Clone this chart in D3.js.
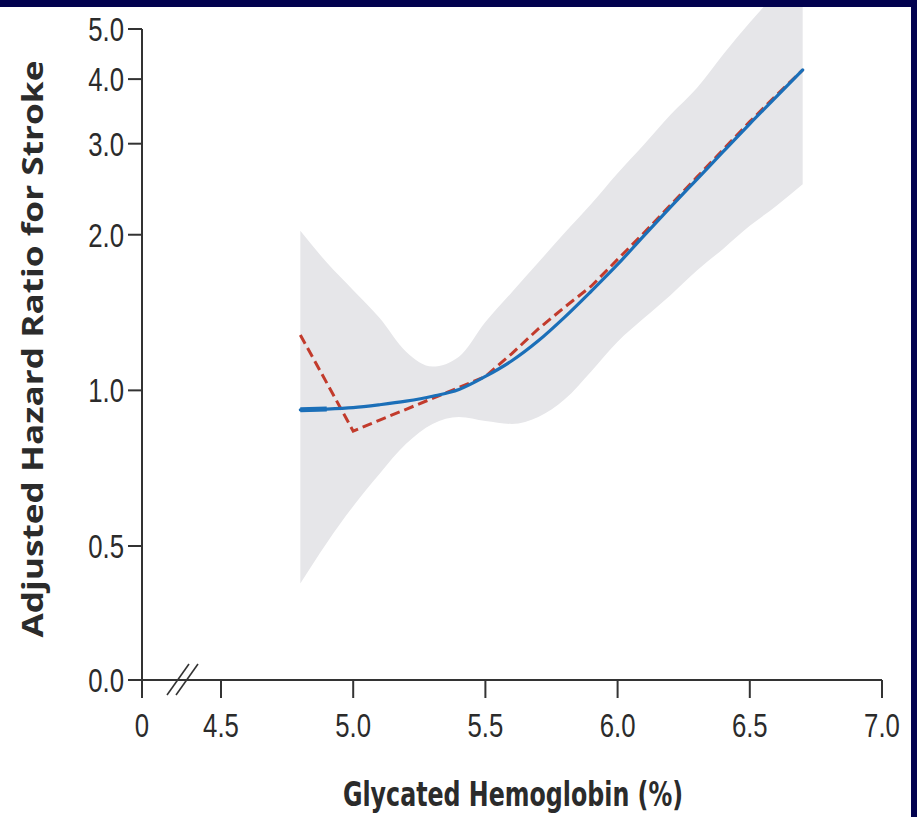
<!DOCTYPE html>
<html>
<head>
<meta charset="utf-8">
<script src="https://cdn.jsdelivr.net/npm/d3@7"></script>
<style>
  html, body { margin: 0; padding: 0; background: #ffffff; }
  svg { display: block; }
  text { fill: #2b2b2b; }
</style>
</head>
<body>
<svg id="chart" width="917" height="817"></svg>
<script>
// Glycated hemoglobin grid (%)
const hba1c = [4.8, 4.9, 5.0, 5.1, 5.2, 5.3, 5.4, 5.5, 5.6, 5.7, 5.8, 5.9, 6.0, 6.1, 6.2, 6.3, 6.4, 6.5, 6.6, 6.7];

// Spline-fitted adjusted hazard ratio (solid blue)
const hrSpline = [0.917, 0.920, 0.926, 0.938, 0.953, 0.974, 1.004, 1.064, 1.141, 1.247,
                  1.386, 1.555, 1.752, 1.992, 2.262, 2.560, 2.898, 3.278, 3.695, 4.166];

// Alternative fit (dashed red)
const hrAlt = [1.280, 1.034, 0.834, 0.876, 0.919, 0.965, 1.013, 1.064, 1.178, 1.315,
               1.449, 1.590, 1.792, 2.018, 2.282, 2.585, 2.925, 3.310, 3.720, 4.166];

// 95% confidence band of the spline
const ciUpper = [2.036, 1.767, 1.562, 1.380, 1.188, 1.112, 1.162, 1.356, 1.548, 1.767,
                 2.018, 2.293, 2.630, 2.989, 3.412, 3.844, 4.467, 5.145, 5.873, 6.706];
const ciLower = [0.423, 0.507, 0.597, 0.690, 0.788, 0.861, 0.888, 0.872, 0.861, 0.888,
                 0.961, 1.088, 1.242, 1.380, 1.528, 1.706, 1.880, 2.081, 2.273, 2.505];

// Axis ticks
const xTicks = [4.5, 5.0, 5.5, 6.0, 6.5, 7.0];
const yTicks = [0.5, 1.0, 2.0, 3.0, 4.0, 5.0];
const xZeroLabel = "0";
const yZeroLabel = "0.0";

const svg = d3.select("#chart");
const W = 917, H = 817;

const axisX = 142;       // vertical axis position (x = 0 after the break)
const axisY = 680;       // horizontal axis position (y = 0 after the break)

const x = d3.scaleLinear().domain([4.5, 7.0]).range([221, 882]);
const y = d3.scaleLog().domain([0.5, 5.0]).range([546, 29]);

const tickFont = "'Liberation Sans', Arial, sans-serif";
const narrow = "'DejaVu Sans Condensed', 'Liberation Sans', sans-serif";
const axisColor = "#333333";
const squeeze = 0.78;    // horizontal compression of tick labels

const rows = hba1c.map((v, i) => ({ x: v, s: hrSpline[i], a: hrAlt[i], lo: ciLower[i], hi: ciUpper[i] }));

// clip region for the plot contents
svg.append("defs").append("clipPath").attr("id", "plotClip")
  .append("rect").attr("x", axisX).attr("y", 0).attr("width", W - axisX).attr("height", axisY);

const plot = svg.append("g").attr("clip-path", "url(#plotClip)");

// confidence band
plot.append("path")
  .datum(rows)
  .attr("fill", "#e6e6e9")
  .attr("d", d3.area()
    .x(d => x(d.x))
    .y0(d => y(d.lo))
    .y1(d => y(d.hi))
    .curve(d3.curveMonotoneX));

// dashed alternative fit
plot.append("path")
  .datum(rows)
  .attr("fill", "none")
  .attr("stroke", "#c23b2c")
  .attr("stroke-width", 3)
  .attr("stroke-dasharray", "10,5")
  .attr("d", d3.line().x(d => x(d.x)).y(d => y(d.a)).curve(d3.curveLinear));

// spline fit
plot.append("path")
  .datum(rows)
  .attr("fill", "none")
  .attr("stroke", "#1b6fb8")
  .attr("stroke-width", 3.2)
  .attr("stroke-linecap", "round")
  .attr("d", d3.line().x(d => x(d.x)).y(d => y(d.s)).curve(d3.curveMonotoneX));

// heavier start of the spline
plot.append("path")
  .datum(rows.slice(0, 2))
  .attr("fill", "none")
  .attr("stroke", "#1b6fb8")
  .attr("stroke-width", 5)
  .attr("d", d3.line().x(d => x(d.x)).y(d => y(d.s)));

// ---- axes ----
const axes = svg.append("g").attr("stroke", axisColor).attr("stroke-width", 2).attr("fill", "none");

// vertical axis line (runs down to the x=0 tick)
axes.append("line").attr("x1", axisX).attr("x2", axisX).attr("y1", y(5.0)).attr("y2", axisY + 18);
// horizontal axis line (starts at the y=0 tick)
axes.append("line").attr("x1", axisX - 14).attr("x2", x(7.0)).attr("y1", axisY).attr("y2", axisY);

// y ticks
axes.selectAll(".yt").data(yTicks).join("line")
  .attr("x1", axisX - 14).attr("x2", axisX)
  .attr("y1", d => y(d)).attr("y2", d => y(d));

// x ticks
axes.selectAll(".xt").data(xTicks).join("line")
  .attr("x1", d => x(d)).attr("x2", d => x(d))
  .attr("y1", axisY).attr("y2", axisY + 18);

// axis break marks
const brk = svg.append("g").attr("stroke", axisColor).attr("stroke-width", 1.6);
[0, 9].forEach(off => {
  brk.append("line")
    .attr("x1", 167 + off).attr("y1", 695)
    .attr("x2", 189 + off).attr("y2", 664);
});

// tick label helper: condensed text placed at (px, py)
function tickLabel(px, py, str, anchor) {
  svg.append("text")
    .attr("transform", `translate(${px},${py}) scale(${squeeze},1)`)
    .attr("text-anchor", anchor)
    .style("font-family", tickFont)
    .style("font-size", "33px")
    .text(str);
}

// y tick labels
yTicks.forEach(d => tickLabel(axisX - 18, y(d) + 12, d3.format(".1f")(d), "end"));
tickLabel(axisX - 18, axisY + 12, yZeroLabel, "end");

// x tick labels
xTicks.forEach(d => tickLabel(x(d), 737, d3.format(".1f")(d), "middle"));
tickLabel(axisX, 737, xZeroLabel, "middle");

// axis titles
svg.append("text")
  .attr("x", 513).attr("y", 806)
  .attr("text-anchor", "middle")
  .attr("textLength", 340).attr("lengthAdjust", "spacingAndGlyphs")
  .style("font-family", narrow).style("font-size", "33px").style("font-weight", "bold")
  .text("Glycated Hemoglobin (%)");

svg.append("text")
  .attr("transform", "translate(43,349) rotate(-90)")
  .attr("text-anchor", "middle")
  .attr("textLength", 577).attr("lengthAdjust", "spacingAndGlyphs")
  .style("font-family", "'Open Sans', 'Liberation Sans', sans-serif")
  .style("font-size", "29px").style("font-weight", "bold")
  .text("Adjusted Hazard Ratio for Stroke");

// navy frame edges
svg.append("rect").attr("x", 0).attr("y", 0).attr("width", W).attr("height", 7).attr("fill", "#02024f");
svg.append("rect").attr("x", 911).attr("y", 0).attr("width", W - 911).attr("height", H).attr("fill", "#02024f");
</script>
</body>
</html>
